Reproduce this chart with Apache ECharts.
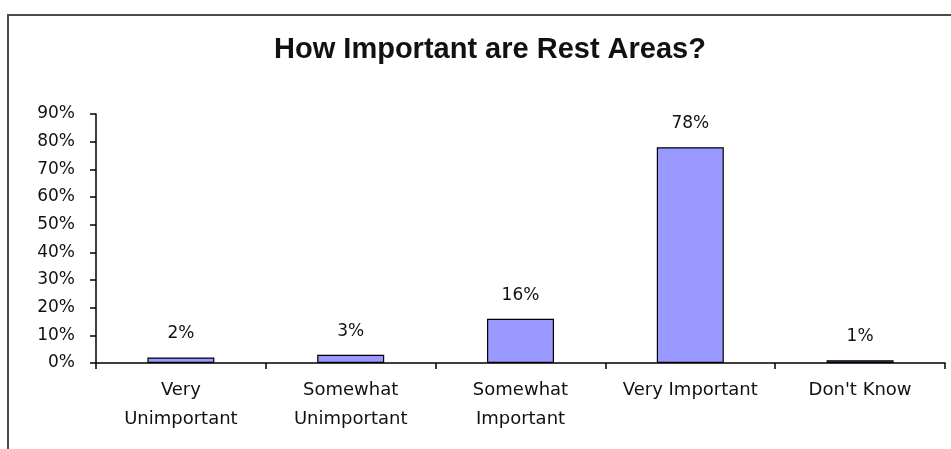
<!DOCTYPE html>
<html>
<head>
<meta charset="utf-8">
<title>How Important are Rest Areas?</title>
<script src="https://cdn.jsdelivr.net/npm/echarts@6/dist/echarts.min.js"></script>
<style>
  html, body { margin: 0; padding: 0; background: #ffffff; }
  #chart { width: 951px; height: 449px; }
</style>
</head>
<body>
<div id="chart"></div>
<script>
// Survey responses: share of respondents per answer (percent)
const categories = [
  'Very\nUnimportant',
  'Somewhat\nUnimportant',
  'Somewhat\nImportant',
  'Very Important',
  "Don't Know"
];
const shares = [2, 3, 16, 78, 1];

// Value axis range and step (percent)
const axisMin = 0;
const axisMax = 90;
const axisStep = 10;

const chart = echarts.init(document.getElementById('chart'), null, { renderer: 'canvas' });

const textFont = 'DejaVu Sans';
const textColor = '#111111';

chart.setOption({
  animation: false,
  backgroundColor: '#ffffff',
  title: {
    text: 'How Important are Rest Areas?',
    left: 485,
    top: 30,
    textAlign: 'center',
    textStyle: {
      fontFamily: 'Liberation Sans',
      fontWeight: 'bold',
      fontSize: 29,
      color: '#111111'
    }
  },
  graphic: [{
    // chart frame (continues past the right and bottom edges)
    type: 'rect',
    shape: { x: 8, y: 15, width: 1200, height: 1000 },
    style: { fill: null, stroke: '#4a4a4a', lineWidth: 2 },
    silent: true,
    z: 10
  }],
  grid: {
    left: 96,
    right: 6,
    top: 114,
    bottom: 86,
    containLabel: false
  },
  xAxis: {
    type: 'category',
    data: categories,
    axisLine: { show: true, lineStyle: { color: '#000000', width: 1.5 } },
    axisTick: { show: true, alignWithLabel: false, length: 6, lineStyle: { color: '#000000', width: 1.5 } },
    axisLabel: {
      interval: 0,
      margin: 13,
      fontFamily: textFont,
      fontSize: 18,
      lineHeight: 29,
      color: textColor
    },
    splitLine: { show: false }
  },
  yAxis: {
    type: 'value',
    min: axisMin,
    max: axisMax,
    interval: axisStep,
    axisLine: { show: true, lineStyle: { color: '#000000', width: 1.5 } },
    axisTick: { show: true, inside: false, length: 6, lineStyle: { color: '#000000', width: 1.5 } },
    axisLabel: {
      formatter: '{value}%',
      margin: 21,
      fontFamily: textFont,
      fontSize: 17,
      color: textColor
    },
    splitLine: { show: false }
  },
  series: [{
    type: 'bar',
    data: shares,
    barWidth: 67,
    itemStyle: {
      color: '#9999ff',
      borderColor: '#000000',
      borderWidth: 1.2
    },
    label: {
      show: true,
      position: 'top',
      distance: 15,
      formatter: '{c}%',
      fontFamily: textFont,
      fontSize: 17,
      color: textColor
    }
  }]
});
</script>
</body>
</html>
